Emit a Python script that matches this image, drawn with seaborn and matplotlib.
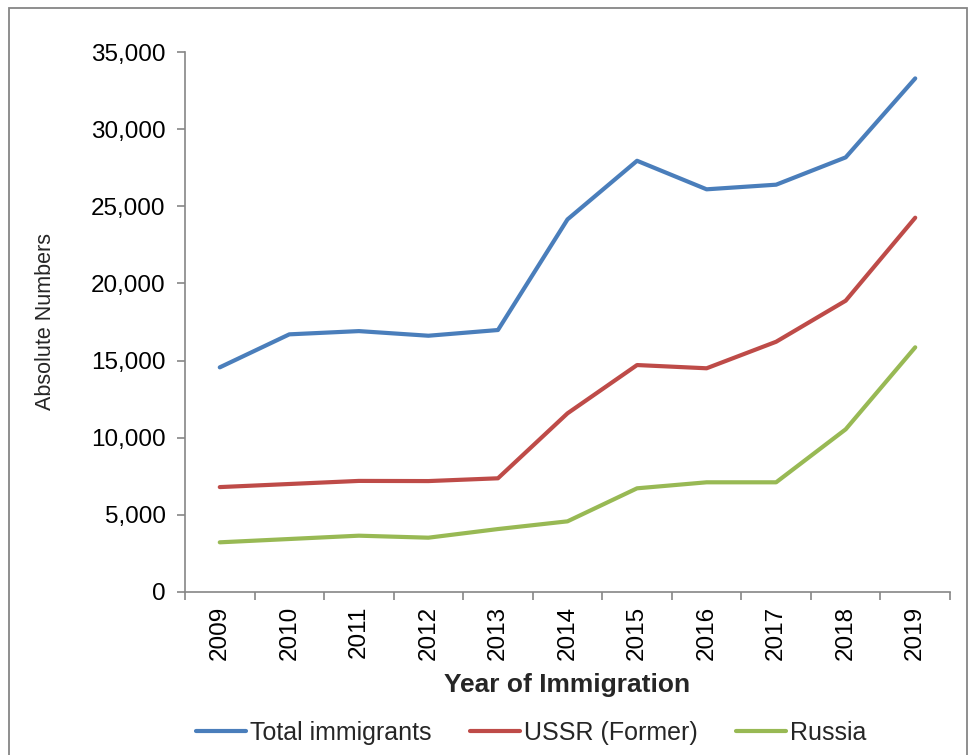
import pandas as pd
import seaborn as sns
import matplotlib
matplotlib.use('Agg')
import matplotlib.pyplot as plt
from matplotlib import font_manager
from matplotlib.ticker import FuncFormatter, MultipleLocator
from matplotlib.patches import Rectangle

# values
years = [2009, 2010, 2011, 2012, 2013, 2014, 2015, 2016, 2017, 2018, 2019]
total_immigrants = [14560, 16700, 16910, 16610, 16980, 24150, 27950, 26100, 26400, 28170, 33290]
ussr_former = [6800, 7000, 7200, 7190, 7370, 11580, 14710, 14500, 16220, 18880, 24260]
russia = [3220, 3435, 3650, 3520, 4080, 4580, 6720, 7110, 7110, 10545, 15860]
series_names = ['Total immigrants', 'USSR (Former)', 'Russia']
colors = ['#4A7EBB', '#BE4B48', '#98B954']

df = pd.DataFrame({
    'year': years * 3,
    'value': total_immigrants + ussr_former + russia,
    'series': [series_names[0]] * len(years) + [series_names[1]] * len(years) + [series_names[2]] * len(years),
})

sns.set_style('white')
plt.rcParams['font.family'] = ['Liberation Sans', 'DejaVu Sans']

installed = {f.name for f in font_manager.fontManager.ttflist}
if 'Liberation Sans Narrow' in installed:
    ylab_family, ylab_size = 'Liberation Sans Narrow', 18
else:
    ylab_family, ylab_size = 'Liberation Sans', 15.5

grey = '#868686'

fig = plt.figure(figsize=(9.76, 7.55), dpi=100)
ax = fig.add_axes([185 / 976, 1 - 592 / 755, (950 - 185) / 976, (592 - 52) / 755])

sns.lineplot(data=df, x='year', y='value', hue='series', palette=colors,
             linewidth=3.0, ax=ax, legend=True)

ax.set_xlim(2008.5, 2019.5)
ax.set_ylim(0, 35000)
ax.yaxis.set_major_locator(MultipleLocator(5000))
ax.yaxis.set_major_formatter(FuncFormatter(lambda v, p: f'{int(v):,}'))
ax.set_xticks(years)
ax.set_xticklabels([str(y) for y in years], rotation=90)
ax.set_xticks([y - 0.5 for y in years] + [2019.5], minor=True)

for side in ['top', 'right']:
    ax.spines[side].set_visible(False)
for side in ['left', 'bottom']:
    ax.spines[side].set_color(grey)
    ax.spines[side].set_linewidth(1.2)

ax.tick_params(axis='y', which='major', direction='out', length=6, width=1.2,
               color=grey, labelsize=17.5, pad=8, left=True, labelcolor='black')
ax.tick_params(axis='x', which='major', length=0, labelsize=17.5, pad=10, labelcolor='black')
ax.tick_params(axis='x', which='minor', direction='out', length=6, width=1.2,
               color=grey, bottom=True)

ax.set_xlabel('Year of Immigration', fontsize=19, fontweight='bold', labelpad=9)
ax.set_ylabel('Absolute Numbers', fontsize=ylab_size, family=[ylab_family, 'DejaVu Sans'])
ax.yaxis.set_label_coords(-0.168, 0.5)

ax.get_legend().remove()
handles, labels = ax.get_legend_handles_labels()
fig.legend(handles, labels, loc='center', bbox_to_anchor=(531 / 976, 1 - 733 / 755),
           ncol=3, frameon=False, fontsize=18, handlelength=2.0, handletextpad=0.15,
           columnspacing=1.55, borderpad=0.2)

# grey frame around the whole chart area
fig.patches.append(Rectangle((9 / 976, -0.05), (967 - 9) / 976, 1.05 - 8 / 755,
                             transform=fig.transFigure, fill=False,
                             edgecolor=grey, linewidth=1.3))

fig.savefig('out.png', dpi=100)
